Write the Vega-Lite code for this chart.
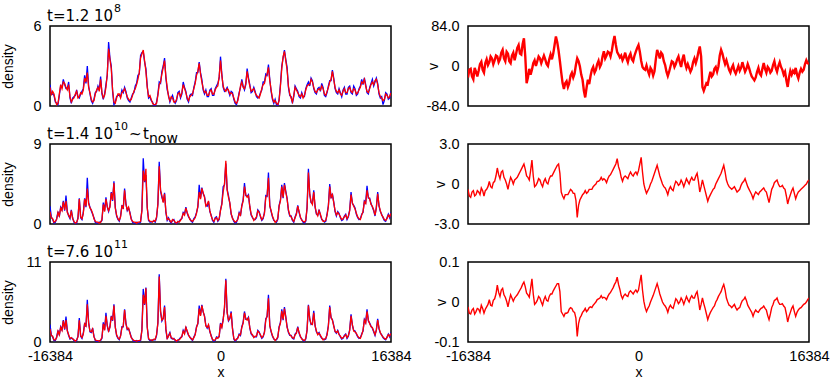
{
"$schema": "https://vega.github.io/schema/vega-lite/v6.json",
"padding": {"left": 0, "top": 2, "right": 0, "bottom": 0},
"background": "white",
"config": {
  "view": {"stroke": "#000", "strokeWidth": 1.5},
  "axis": {"grid": false, "ticks": false, "domain": false, "labelFont": "Liberation Sans", "labelFontSize": 14.5, "labelColor": "#000", "labelPadding": 9, "labelFlush": false, "labelOverlap": false, "titleFont": "Liberation Sans", "titleFontSize": 14, "titleFontWeight": "normal", "titleColor": "#000"}
},
"data": {"name": "d"},
"datasets": {"d": [
{"x":-16384,"b1":1.6,"r1":1.4,"v1":-24,"b2":2.0,"r2":1.4,"v2":-0.4,"b3":2.4,"r3":1.8,"v3":-0.012},
{"x":-16128,"b1":0.9,"r1":1.1,"v1":-6,"b2":0.5,"r2":0.6,"v2":-1.0,"b3":0.7,"r3":0.8,"v3":-0.030},
{"x":-15872,"b1":0.3,"r1":0.4,"v1":-28,"b2":0.2,"r2":0.3,"v2":-0.5,"b3":0.2,"r3":0.3,"v3":-0.016},
{"x":-15616,"b1":0.1,"r1":0.2,"v1":-12,"b2":1.4,"r2":1.3,"v2":-0.8,"b3":1.6,"r3":1.5,"v3":-0.024},
{"x":-15360,"b1":1.5,"r1":1.6,"v1":-10,"b2":1.9,"r2":1.8,"v2":-0.6,"b3":2.1,"r3":2.0,"v3":-0.018},
{"x":-15104,"b1":2.0,"r1":1.8,"v1":9,"b2":2.6,"r2":2.5,"v2":-0.3,"b3":3.0,"r3":2.9,"v3":-0.008},
{"x":-14848,"b1":1.3,"r1":1.4,"v1":-14,"b2":3.2,"r2":2.6,"v2":-0.9,"b3":3.5,"r3":3.0,"v3":-0.028},
{"x":-14592,"b1":1.8,"r1":1.6,"v1":14,"b2":0.9,"r2":1.0,"v2":-0.4,"b3":0.9,"r3":1.0,"v3":-0.012},
{"x":-14336,"b1":0.2,"r1":0.3,"v1":8,"b2":1.6,"r2":1.5,"v2":0.2,"b3":0.5,"r3":0.6,"v3":0.006},
{"x":-14080,"b1":0.7,"r1":0.6,"v1":16,"b2":0.2,"r2":0.3,"v2":-0.3,"b3":0.2,"r3":0.3,"v3":-0.010},
{"x":-13824,"b1":1.2,"r1":1.1,"v1":12,"b2":0.1,"r2":0.2,"v2":0.2,"b3":0.2,"r3":0.3,"v3":0.008},
{"x":-13568,"b1":0.6,"r1":0.7,"v1":20,"b2":2.9,"r2":2.8,"v2":1.2,"b3":3.3,"r3":3.0,"v3":0.042},
{"x":-13312,"b1":1.1,"r1":0.9,"v1":14,"b2":0.5,"r2":0.6,"v2":0.4,"b3":0.5,"r3":0.6,"v3":0.014},
{"x":-13056,"b1":2.3,"r1":2.1,"v1":34,"b2":2.9,"r2":2.8,"v2":1.0,"b3":2.6,"r3":2.5,"v3":0.034},
{"x":-12800,"b1":3.0,"r1":2.5,"v1":10,"b2":5.2,"r2":4.0,"v2":0.3,"b3":5.8,"r3":5.2,"v3":0.012},
{"x":-12544,"b1":0.9,"r1":1.0,"v1":26,"b2":1.9,"r2":1.8,"v2":-0.4,"b3":1.4,"r3":1.5,"v3":-0.012},
{"x":-12288,"b1":0.2,"r1":0.3,"v1":6,"b2":1.1,"r2":1.2,"v2":0.5,"b3":1.9,"r3":1.8,"v3":0.018},
{"x":-12032,"b1":1.0,"r1":0.9,"v1":28,"b2":0.2,"r2":0.3,"v2":0.0,"b3":0.2,"r3":0.3,"v3":0.002},
{"x":-11776,"b1":1.5,"r1":1.4,"v1":24,"b2":0.1,"r2":0.2,"v2":0.4,"b3":0.1,"r3":0.2,"v3":0.014},
{"x":-11520,"b1":2.2,"r1":2.0,"v1":44,"b2":0.2,"r2":0.2,"v2":0.7,"b3":0.2,"r3":0.3,"v3":0.024},
{"x":-11264,"b1":0.5,"r1":0.6,"v1":24,"b2":2.4,"r2":2.2,"v2":1.1,"b3":2.7,"r3":2.5,"v3":0.036},
{"x":-11008,"b1":1.6,"r1":1.4,"v1":58,"b2":3.0,"r2":2.8,"v2":1.5,"b3":4.0,"r3":3.6,"v3":0.050},
{"x":-10752,"b1":4.8,"r1":4.3,"v1":-36,"b2":1.4,"r2":1.5,"v2":0.6,"b3":1.4,"r3":1.5,"v3":0.022},
{"x":-10496,"b1":3.0,"r1":2.8,"v1":-6,"b2":3.6,"r2":3.5,"v2":0.3,"b3":3.6,"r3":3.5,"v3":0.012},
{"x":-10240,"b1":0.1,"r1":0.3,"v1":-8,"b2":4.8,"r2":4.6,"v2":1.8,"b3":5.2,"r3":5.0,"v3":0.058},
{"x":-9984,"b1":0.7,"r1":0.6,"v1":12,"b2":0.9,"r2":1.0,"v2":-0.2,"b3":0.9,"r3":1.0,"v3":-0.006},
{"x":-9728,"b1":0.8,"r1":0.9,"v1":10,"b2":0.3,"r2":0.4,"v2":0.1,"b3":0.3,"r3":0.4,"v3":0.004},
{"x":-9472,"b1":1.2,"r1":1.0,"v1":16,"b2":2.1,"r2":2.0,"v2":0.3,"b3":2.1,"r3":2.0,"v3":0.010},
{"x":-9216,"b1":1.4,"r1":1.3,"v1":14,"b2":4.0,"r2":3.8,"v2":-0.2,"b3":4.5,"r3":4.4,"v3":-0.008},
{"x":-8960,"b1":0.6,"r1":0.7,"v1":14,"b2":1.5,"r2":1.6,"v2":0.4,"b3":1.7,"r3":1.8,"v3":0.014},
{"x":-8704,"b1":0.3,"r1":0.4,"v1":0,"b2":1.3,"r2":1.2,"v2":0.0,"b3":1.3,"r3":1.2,"v3":0.002},
{"x":-8448,"b1":0.9,"r1":0.8,"v1":24,"b2":0.2,"r2":0.3,"v2":0.6,"b3":0.3,"r3":0.4,"v3":0.020},
{"x":-8192,"b1":1.5,"r1":1.3,"v1":26,"b2":0.1,"r2":0.2,"v2":0.8,"b3":0.1,"r3":0.2,"v3":0.028},
{"x":-7936,"b1":2.3,"r1":2.0,"v1":62,"b2":0.1,"r2":0.2,"v2":1.2,"b3":0.1,"r3":0.2,"v3":0.040},
{"x":-7680,"b1":3.8,"r1":3.6,"v1":32,"b2":0.2,"r2":0.3,"v2":1.5,"b3":0.2,"r3":0.3,"v3":0.046},
{"x":-7424,"b1":4.1,"r1":4.2,"v1":-14,"b2":7.4,"r2":6.0,"v2":-0.6,"b3":7.3,"r3":6.5,"v3":-0.024},
{"x":-7168,"b1":2.8,"r1":2.6,"v1":-48,"b2":5.5,"r2":6.2,"v2":-1.1,"b3":7.5,"r3":7.4,"v3":-0.036},
{"x":-6912,"b1":0.6,"r1":0.7,"v1":-32,"b2":0.4,"r2":0.5,"v2":-0.8,"b3":0.4,"r3":0.5,"v3":-0.028},
{"x":-6656,"b1":0.4,"r1":0.5,"v1":-36,"b2":0.2,"r2":0.3,"v2":-0.6,"b3":0.2,"r3":0.3,"v3":-0.018},
{"x":-6400,"b1":0.0,"r1":0.1,"v1":-14,"b2":0.3,"r2":0.4,"v2":-0.5,"b3":0.3,"r3":0.4,"v3":-0.016},
{"x":-6144,"b1":0.3,"r1":0.2,"v1":-16,"b2":0.7,"r2":0.8,"v2":-0.7,"b3":0.9,"r3":1.0,"v3":-0.026},
{"x":-5888,"b1":1.8,"r1":1.6,"v1":16,"b2":7.0,"r2":6.5,"v2":-2.5,"b3":9.3,"r3":9.0,"v3":-0.086},
{"x":-5632,"b1":2.6,"r1":2.4,"v1":-1,"b2":3.0,"r2":3.2,"v2":-1.2,"b3":2.9,"r3":3.0,"v3":-0.040},
{"x":-5376,"b1":3.6,"r1":3.4,"v1":-29,"b2":3.5,"r2":3.4,"v2":-0.8,"b3":5.0,"r3":4.8,"v3":-0.026},
{"x":-5120,"b1":1.2,"r1":1.4,"v1":-66,"b2":0.4,"r2":0.5,"v2":-0.5,"b3":0.4,"r3":0.5,"v3":-0.016},
{"x":-4864,"b1":0.3,"r1":0.4,"v1":-29,"b2":0.3,"r2":0.4,"v2":-0.6,"b3":1.3,"r3":1.2,"v3":-0.020},
{"x":-4608,"b1":0.8,"r1":0.6,"v1":-21,"b2":0.4,"r2":0.5,"v2":-0.4,"b3":0.4,"r3":0.5,"v3":-0.012},
{"x":-4352,"b1":0.2,"r1":0.3,"v1":-2,"b2":0.1,"r2":0.2,"v2":-0.2,"b3":0.2,"r3":0.3,"v3":-0.008},
{"x":-4096,"b1":1.0,"r1":0.9,"v1":-8,"b2":0.2,"r2":0.3,"v2":0.0,"b3":0.2,"r3":0.3,"v3":0.000},
{"x":-3840,"b1":0.6,"r1":0.7,"v1":11,"b2":0.5,"r2":0.4,"v2":0.2,"b3":0.6,"r3":0.5,"v3":0.008},
{"x":-3584,"b1":1.8,"r1":1.6,"v1":4,"b2":1.3,"r2":1.2,"v2":0.5,"b3":1.6,"r3":1.5,"v3":0.016},
{"x":-3328,"b1":1.1,"r1":1.0,"v1":31,"b2":1.9,"r2":1.8,"v2":0.4,"b3":2.1,"r3":2.0,"v3":0.012},
{"x":-3072,"b1":0.3,"r1":0.4,"v1":22,"b2":0.8,"r2":0.9,"v2":0.1,"b3":0.9,"r3":1.0,"v3":0.006},
{"x":-2816,"b1":0.9,"r1":0.8,"v1":28,"b2":0.3,"r2":0.4,"v2":0.6,"b3":0.4,"r3":0.5,"v3":0.020},
{"x":-2560,"b1":1.4,"r1":1.3,"v1":32,"b2":0.6,"r2":0.5,"v2":0.9,"b3":0.7,"r3":0.6,"v3":0.030},
{"x":-2304,"b1":2.5,"r1":2.3,"v1":63,"b2":1.3,"r2":1.2,"v2":1.3,"b3":2.1,"r3":2.0,"v3":0.044},
{"x":-2048,"b1":3.3,"r1":3.2,"v1":29,"b2":4.4,"r2":3.6,"v2":1.9,"b3":5.0,"r3":4.6,"v3":0.062},
{"x":-1792,"b1":2.0,"r1":1.8,"v1":18,"b2":4.1,"r2":4.0,"v2":1.0,"b3":5.1,"r3":5.0,"v3":0.032},
{"x":-1536,"b1":0.9,"r1":1.0,"v1":12,"b2":3.1,"r2":3.0,"v2":0.2,"b3":3.6,"r3":3.5,"v3":0.008},
{"x":-1280,"b1":0.7,"r1":0.8,"v1":28,"b2":2.0,"r2":2.2,"v2":0.6,"b3":1.9,"r3":2.0,"v3":0.020},
{"x":-1024,"b1":1.2,"r1":1.1,"v1":8,"b2":1.4,"r2":1.5,"v2":0.4,"b3":1.4,"r3":1.5,"v3":0.014},
{"x":-768,"b1":0.8,"r1":0.9,"v1":26,"b2":0.4,"r2":0.5,"v2":0.9,"b3":0.3,"r3":0.4,"v3":0.028},
{"x":-512,"b1":1.3,"r1":1.2,"v1":10,"b2":0.7,"r2":0.6,"v2":0.6,"b3":0.2,"r3":0.3,"v3":0.020},
{"x":-256,"b1":1.7,"r1":1.5,"v1":30,"b2":0.3,"r2":0.4,"v2":0.9,"b3":0.6,"r3":0.5,"v3":0.030},
{"x":0,"b1":3.7,"r1":3.4,"v1":44,"b2":1.6,"r2":1.5,"v2":1.0,"b3":2.6,"r3":2.5,"v3":0.030},
{"x":256,"b1":1.4,"r1":1.5,"v1":11,"b2":4.2,"r2":3.6,"v2":2.0,"b3":3.1,"r3":3.0,"v3":0.068},
{"x":512,"b1":1.2,"r1":1.1,"v1":-6,"b2":6.8,"r2":7.1,"v2":0.0,"b3":8.7,"r3":8.5,"v3":0.002},
{"x":768,"b1":1.1,"r1":1.2,"v1":1,"b2":3.2,"r2":3.0,"v2":-0.7,"b3":2.9,"r3":3.0,"v3":-0.024},
{"x":1024,"b1":1.1,"r1":1.0,"v1":-18,"b2":1.1,"r2":1.2,"v2":-0.3,"b3":4.2,"r3":4.0,"v3":-0.010},
{"x":1280,"b1":0.5,"r1":0.6,"v1":-9,"b2":0.3,"r2":0.4,"v2":0.2,"b3":0.4,"r3":0.5,"v3":0.008},
{"x":1536,"b1":0.1,"r1":0.2,"v1":-11,"b2":0.2,"r2":0.3,"v2":0.8,"b3":0.3,"r3":0.4,"v3":0.026},
{"x":1792,"b1":1.0,"r1":0.9,"v1":34,"b2":1.3,"r2":1.2,"v2":1.4,"b3":1.1,"r3":1.0,"v3":0.046},
{"x":2048,"b1":2.0,"r1":1.8,"v1":16,"b2":2.1,"r2":2.0,"v2":0.6,"b3":2.1,"r3":2.0,"v3":0.020},
{"x":2304,"b1":1.2,"r1":1.3,"v1":24,"b2":4.6,"r2":4.2,"v2":0.0,"b3":4.2,"r3":4.0,"v3":0.000},
{"x":2560,"b1":2.8,"r1":2.6,"v1":2,"b2":3.1,"r2":3.0,"v2":-0.3,"b3":3.1,"r3":3.0,"v3":-0.010},
{"x":2816,"b1":1.6,"r1":1.5,"v1":-21,"b2":1.9,"r2":2.0,"v2":-0.8,"b3":1.9,"r3":2.0,"v3":-0.026},
{"x":3072,"b1":1.1,"r1":1.2,"v1":-1,"b2":0.7,"r2":0.8,"v2":-0.2,"b3":0.9,"r3":1.0,"v3":-0.008},
{"x":3328,"b1":1.1,"r1":1.0,"v1":8,"b2":0.5,"r2":0.6,"v2":-0.5,"b3":0.7,"r3":0.8,"v3":-0.016},
{"x":3584,"b1":0.6,"r1":0.7,"v1":4,"b2":1.6,"r2":1.5,"v2":0.2,"b3":1.6,"r3":1.5,"v3":0.008},
{"x":3840,"b1":1.0,"r1":0.9,"v1":20,"b2":0.8,"r2":0.9,"v2":-0.1,"b3":0.9,"r3":1.0,"v3":-0.004},
{"x":4096,"b1":1.8,"r1":1.6,"v1":-2,"b2":0.6,"r2":0.7,"v2":0.3,"b3":0.7,"r3":0.8,"v3":0.010},
{"x":4352,"b1":2.4,"r1":2.2,"v1":24,"b2":3.2,"r2":3.0,"v2":-0.2,"b3":3.2,"r3":3.0,"v3":-0.006},
{"x":4608,"b1":3.1,"r1":2.9,"v1":-4,"b2":5.8,"r2":5.2,"v2":0.4,"b3":6.5,"r3":6.0,"v3":0.014},
{"x":4864,"b1":1.1,"r1":1.2,"v1":-4,"b2":1.4,"r2":1.5,"v2":0.0,"b3":1.4,"r3":1.5,"v3":0.000},
{"x":5120,"b1":0.2,"r1":0.3,"v1":-6,"b2":0.4,"r2":0.5,"v2":0.5,"b3":0.4,"r3":0.5,"v3":0.016},
{"x":5376,"b1":0.1,"r1":0.2,"v1":16,"b2":0.2,"r2":0.3,"v2":0.3,"b3":0.3,"r3":0.4,"v3":0.010},
{"x":5632,"b1":0.5,"r1":0.4,"v1":16,"b2":2.1,"r2":2.0,"v2":0.8,"b3":2.1,"r3":2.0,"v3":0.026},
{"x":5888,"b1":3.0,"r1":2.8,"v1":41,"b2":4.4,"r2":4.2,"v2":-0.6,"b3":4.5,"r3":4.3,"v3":-0.020},
{"x":6144,"b1":4.2,"r1":4.1,"v1":-44,"b2":4.6,"r2":4.4,"v2":0.3,"b3":4.8,"r3":4.6,"v3":0.010},
{"x":6400,"b1":2.9,"r1":2.7,"v1":-44,"b2":2.9,"r2":2.8,"v2":-0.5,"b3":2.1,"r3":2.0,"v3":-0.016},
{"x":6656,"b1":0.8,"r1":0.9,"v1":-38,"b2":0.9,"r2":1.0,"v2":-1.3,"b3":0.9,"r3":1.0,"v3":-0.044},
{"x":6912,"b1":0.2,"r1":0.3,"v1":-12,"b2":0.4,"r2":0.5,"v2":-0.8,"b3":0.5,"r3":0.6,"v3":-0.026},
{"x":7168,"b1":1.5,"r1":1.4,"v1":-18,"b2":0.8,"r2":0.7,"v2":-0.4,"b3":1.1,"r3":1.0,"v3":-0.014},
{"x":7424,"b1":1.1,"r1":1.0,"v1":-2,"b2":2.1,"r2":2.0,"v2":0.0,"b3":2.1,"r3":2.0,"v3":0.000},
{"x":7680,"b1":0.6,"r1":0.7,"v1":-1,"b2":0.7,"r2":0.8,"v2":0.4,"b3":0.7,"r3":0.8,"v3":0.014},
{"x":7936,"b1":0.7,"r1":0.6,"v1":34,"b2":0.2,"r2":0.3,"v2":0.8,"b3":0.2,"r3":0.3,"v3":0.026},
{"x":8192,"b1":1.3,"r1":1.2,"v1":14,"b2":0.3,"r2":0.4,"v2":1.4,"b3":0.4,"r3":0.5,"v3":0.044},
{"x":8448,"b1":1.8,"r1":1.6,"v1":12,"b2":6.2,"r2":5.8,"v2":0.3,"b3":5.1,"r3":5.0,"v3":0.010},
{"x":8704,"b1":2.1,"r1":2.0,"v1":-8,"b2":2.4,"r2":2.5,"v2":-0.2,"b3":2.4,"r3":2.5,"v3":-0.008},
{"x":8960,"b1":1.3,"r1":1.4,"v1":-4,"b2":3.8,"r2":3.6,"v2":-0.4,"b3":4.3,"r3":4.0,"v3":-0.014},
{"x":9216,"b1":0.9,"r1":1.0,"v1":-10,"b2":1.1,"r2":1.2,"v2":-0.2,"b3":1.4,"r3":1.5,"v3":-0.006},
{"x":9472,"b1":1.4,"r1":1.3,"v1":-8,"b2":1.6,"r2":1.5,"v2":-0.6,"b3":1.3,"r3":1.2,"v3":-0.020},
{"x":9728,"b1":1.7,"r1":1.5,"v1":-10,"b2":0.5,"r2":0.6,"v2":-0.4,"b3":0.5,"r3":0.6,"v3":-0.014},
{"x":9984,"b1":0.8,"r1":0.9,"v1":8,"b2":0.2,"r2":0.3,"v2":0.1,"b3":0.3,"r3":0.4,"v3":0.004},
{"x":10240,"b1":1.0,"r1":1.1,"v1":-12,"b2":1.1,"r2":1.0,"v2":0.4,"b3":1.1,"r3":1.0,"v3":0.012},
{"x":10496,"b1":1.9,"r1":1.8,"v1":4,"b2":4.5,"r2":4.2,"v2":-0.2,"b3":5.0,"r3":4.8,"v3":-0.008},
{"x":10752,"b1":2.7,"r1":2.6,"v1":-14,"b2":3.4,"r2":3.3,"v2":-0.6,"b3":3.1,"r3":3.0,"v3":-0.020},
{"x":11008,"b1":1.3,"r1":1.4,"v1":-26,"b2":1.4,"r2":1.5,"v2":-1.1,"b3":1.4,"r3":1.5,"v3":-0.036},
{"x":11264,"b1":0.9,"r1":1.0,"v1":-24,"b2":1.4,"r2":1.3,"v2":-0.6,"b3":1.6,"r3":1.5,"v3":-0.020},
{"x":11520,"b1":1.0,"r1":0.9,"v1":-4,"b2":0.7,"r2":0.8,"v2":-0.8,"b3":0.7,"r3":0.8,"v3":-0.026},
{"x":11776,"b1":1.2,"r1":1.1,"v1":-20,"b2":0.5,"r2":0.6,"v2":-0.5,"b3":0.5,"r3":0.6,"v3":-0.016},
{"x":12032,"b1":0.9,"r1":1.0,"v1":6,"b2":1.1,"r2":1.0,"v2":-0.3,"b3":1.1,"r3":1.0,"v3":-0.010},
{"x":12288,"b1":1.4,"r1":1.3,"v1":-14,"b2":0.8,"r2":0.9,"v2":-0.6,"b3":0.8,"r3":0.9,"v3":-0.020},
{"x":12544,"b1":1.0,"r1":1.1,"v1":-6,"b2":3.6,"r2":3.3,"v2":-1.4,"b3":3.8,"r3":3.6,"v3":-0.044},
{"x":12800,"b1":1.5,"r1":1.3,"v1":-10,"b2":2.1,"r2":2.0,"v2":-0.4,"b3":1.6,"r3":1.5,"v3":-0.014},
{"x":13056,"b1":0.8,"r1":0.9,"v1":10,"b2":1.1,"r2":1.2,"v2":0.1,"b3":1.1,"r3":1.2,"v3":0.004},
{"x":13312,"b1":1.3,"r1":1.2,"v1":-12,"b2":0.5,"r2":0.6,"v2":0.3,"b3":0.5,"r3":0.6,"v3":0.010},
{"x":13568,"b1":2.0,"r1":1.8,"v1":8,"b2":1.1,"r2":1.0,"v2":-0.2,"b3":1.1,"r3":1.0,"v3":-0.006},
{"x":13824,"b1":2.1,"r1":2.0,"v1":-8,"b2":2.6,"r2":2.5,"v2":-0.1,"b3":3.1,"r3":3.0,"v3":-0.004},
{"x":14080,"b1":1.0,"r1":1.1,"v1":-12,"b2":4.3,"r2":3.8,"v2":-0.4,"b3":4.5,"r3":4.2,"v3":-0.014},
{"x":14336,"b1":1.4,"r1":1.3,"v1":-44,"b2":2.9,"r2":2.8,"v2":-1.5,"b3":2.6,"r3":2.5,"v3":-0.050},
{"x":14592,"b1":2.0,"r1":1.8,"v1":-10,"b2":1.9,"r2":2.0,"v2":-0.8,"b3":1.9,"r3":2.0,"v3":-0.026},
{"x":14848,"b1":1.8,"r1":1.9,"v1":-10,"b2":0.9,"r2":1.0,"v2":-0.3,"b3":0.9,"r3":1.0,"v3":-0.010},
{"x":15104,"b1":1.7,"r1":1.6,"v1":-4,"b2":3.6,"r2":3.4,"v2":-1.1,"b3":3.2,"r3":3.0,"v3":-0.036},
{"x":15360,"b1":0.6,"r1":0.7,"v1":-26,"b2":1.4,"r2":1.5,"v2":-0.6,"b3":1.2,"r3":1.3,"v3":-0.020},
{"x":15616,"b1":0.1,"r1":0.4,"v1":-6,"b2":0.7,"r2":0.8,"v2":-0.4,"b3":0.6,"r3":0.7,"v3":-0.014},
{"x":15872,"b1":1.0,"r1":0.9,"v1":-8,"b2":0.3,"r2":0.4,"v2":-0.2,"b3":0.3,"r3":0.4,"v3":-0.006},
{"x":16128,"b1":0.5,"r1":0.6,"v1":12,"b2":1.1,"r2":1.0,"v2":0.0,"b3":1.1,"r3":1.0,"v3":0.000},
{"x":16384,"b1":1.1,"r1":1.0,"v1":4,"b2":1.3,"r2":1.2,"v2":0.3,"b3":1.3,"r3":1.2,"v3":0.010},
{"x":-16256,"b1":0.9,"r1":0.8,"v1":-8,"b2":0.8,"r2":0.7,"v2":-0.9,"b3":1.0,"r3":0.9,"v3":-0.028},
{"x":-16000,"b1":0.8,"r1":0.9,"v1":-22,"b2":0.1,"r2":0.2,"v2":-0.6,"b3":0.2,"r3":0.3,"v3":-0.020},
{"x":-15744,"b1":0.2,"r1":0.1,"v1":-4,"b2":0.6,"r2":0.5,"v2":-0.9,"b3":0.7,"r3":0.6,"v3":-0.030},
{"x":-15488,"b1":0.8,"r1":0.9,"v1":-22,"b2":0.8,"r2":0.9,"v2":-0.5,"b3":0.9,"r3":1.0,"v3":-0.016},
{"x":-15232,"b1":1.4,"r1":1.3,"v1":4,"b2":1.6,"r2":1.5,"v2":-0.8,"b3":1.7,"r3":1.6,"v3":-0.026},
{"x":-14976,"b1":1.6,"r1":1.7,"v1":-8,"b2":1.5,"r2":1.6,"v2":-0.5,"b3":1.7,"r3":1.8,"v3":-0.016},
{"x":-14720,"b1":1.3,"r1":1.2,"v1":6,"b2":1.4,"r2":1.3,"v2":-0.5,"b3":1.6,"r3":1.5,"v3":-0.018},
{"x":-14464,"b1":0.6,"r1":0.7,"v1":2,"b2":0.6,"r2":0.7,"v2":-0.2,"b3":0.4,"r3":0.5,"v3":-0.006},
{"x":-14208,"b1":0.6,"r1":0.5,"v1":20,"b2":0.7,"r2":0.6,"v2":-0.2,"b3":0.5,"r3":0.4,"v3":-0.008},
{"x":-13952,"b1":0.8,"r1":0.9,"v1":4,"b2":0.0,"r2":0.1,"v2":0.1,"b3":0.0,"r3":0.1,"v3":0.004},
{"x":-13696,"b1":0.7,"r1":0.6,"v1":22,"b2":0.7,"r2":0.6,"v2":0.6,"b3":0.8,"r3":0.7,"v3":0.020},
{"x":-13440,"b1":0.9,"r1":1.0,"v1":8,"b2":0.7,"r2":0.8,"v2":0.7,"b3":0.8,"r3":0.9,"v3":0.024},
{"x":-13184,"b1":1.3,"r1":1.2,"v1":28,"b2":1.3,"r2":1.2,"v2":0.9,"b3":1.2,"r3":1.1,"v3":0.030},
{"x":-12928,"b1":1.7,"r1":1.8,"v1":16,"b2":1.9,"r2":2.0,"v2":0.5,"b3":2.1,"r3":2.2,"v3":0.018},
{"x":-12672,"b1":1.5,"r1":1.4,"v1":30,"b2":2.4,"r2":2.3,"v2":0.0,"b3":2.7,"r3":2.6,"v3":0.002},
{"x":-12416,"b1":0.4,"r1":0.5,"v1":10,"b2":1.5,"r2":1.6,"v2":0.1,"b3":1.3,"r3":1.4,"v3":0.004},
{"x":-12160,"b1":0.5,"r1":0.4,"v1":22,"b2":0.7,"r2":0.6,"v2":0.3,"b3":0.8,"r3":0.7,"v3":0.010},
{"x":-11904,"b1":1.1,"r1":1.2,"v1":12,"b2":0.1,"r2":0.2,"v2":0.3,"b3":0.1,"r3":0.2,"v3":0.010},
{"x":-11648,"b1":1.2,"r1":1.1,"v1":38,"b2":0.2,"r2":0.1,"v2":0.5,"b3":0.2,"r3":0.1,"v3":0.018},
{"x":-11392,"b1":0.9,"r1":1.0,"v1":26,"b2":0.4,"r2":0.5,"v2":0.9,"b3":0.5,"r3":0.6,"v3":0.030},
{"x":-11136,"b1":0.9,"r1":0.8,"v1":46,"b2":1.5,"r2":1.4,"v2":1.3,"b3":1.7,"r3":1.6,"v3":0.044},
{"x":-10880,"b1":2.3,"r1":2.4,"v1":20,"b2":1.9,"r2":2.0,"v2":1.1,"b3":2.2,"r3":2.3,"v3":0.038},
{"x":-10624,"b1":3.6,"r1":3.5,"v1":-24,"b2":2.0,"r2":1.9,"v2":0.5,"b3":2.1,"r3":2.0,"v3":0.018},
{"x":-10368,"b1":1.1,"r1":1.2,"v1":-18,"b2":2.6,"r2":2.7,"v2":1.0,"b3":2.9,"r3":3.0,"v3":0.034},
{"x":-10112,"b1":0.3,"r1":0.2,"v1":6,"b2":1.9,"r2":1.8,"v2":0.6,"b3":2.1,"r3":2.0,"v3":0.020},
{"x":-9856,"b1":0.8,"r1":0.9,"v1":0,"b2":0.5,"r2":0.6,"v2":-0.1,"b3":0.5,"r3":0.6,"v3":-0.002},
{"x":-9600,"b1":0.7,"r1":0.6,"v1":20,"b2":0.9,"r2":0.8,"v2":0.4,"b3":0.9,"r3":0.8,"v3":0.014},
{"x":-9344,"b1":1.0,"r1":1.1,"v1":6,"b2":1.7,"r2":1.8,"v2":0.0,"b3":2.1,"r3":2.2,"v3":0.000},
{"x":-9088,"b1":1.1,"r1":1.0,"v1":22,"b2":2.3,"r2":2.2,"v2":0.2,"b3":2.6,"r3":2.5,"v3":0.006},
{"x":-8832,"b1":0.4,"r1":0.5,"v1":4,"b2":1.8,"r2":1.9,"v2":0.1,"b3":1.8,"r3":1.9,"v3":0.004},
{"x":-8576,"b1":0.6,"r1":0.5,"v1":14,"b2":0.6,"r2":0.5,"v2":0.4,"b3":0.7,"r3":0.6,"v3":0.014},
{"x":-8320,"b1":1.0,"r1":1.1,"v1":14,"b2":0.1,"r2":0.2,"v2":0.6,"b3":0.1,"r3":0.2,"v3":0.020},
{"x":-8064,"b1":1.7,"r1":1.6,"v1":44,"b2":0.2,"r2":0.1,"v2":1.0,"b3":0.2,"r3":0.1,"v3":0.034},
{"x":-7808,"b1":2.4,"r1":2.5,"v1":50,"b2":0.1,"r2":0.2,"v2":1.4,"b3":0.1,"r3":0.2,"v3":0.046},
{"x":-7552,"b1":4.0,"r1":3.9,"v1":10,"b2":1.6,"r2":1.5,"v2":0.8,"b3":1.7,"r3":1.6,"v3":0.026},
{"x":-7296,"b1":3.3,"r1":3.4,"v1":-36,"b2":4.7,"r2":4.8,"v2":-0.9,"b3":5.1,"r3":5.2,"v3":-0.030},
{"x":-7040,"b1":1.5,"r1":1.4,"v1":-36,"b2":1.9,"r2":1.8,"v2":-0.8,"b3":2.1,"r3":2.0,"v3":-0.028},
{"x":-6784,"b1":0.7,"r1":0.8,"v1":-44,"b2":0.2,"r2":0.3,"v2":-0.8,"b3":0.2,"r3":0.3,"v3":-0.026},
{"x":-6528,"b1":0.3,"r1":0.2,"v1":-20,"b2":0.3,"r2":0.2,"v2":-0.4,"b3":0.3,"r3":0.2,"v3":-0.014},
{"x":-6272,"b1":0.0,"r1":0.1,"v1":-24,"b2":0.2,"r2":0.3,"v2":-0.7,"b3":0.3,"r3":0.4,"v3":-0.024},
{"x":-6016,"b1":0.9,"r1":0.8,"v1":2,"b2":2.3,"r2":2.2,"v2":-1.2,"b3":2.7,"r3":2.6,"v3":-0.040},
{"x":-5760,"b1":1.7,"r1":1.8,"v1":10,"b2":3.7,"r2":3.8,"v2":-1.6,"b3":4.1,"r3":4.2,"v3":-0.054},
{"x":-5504,"b1":3.0,"r1":2.9,"v1":-18,"b2":2.5,"r2":2.4,"v2":-1.0,"b3":3.3,"r3":3.2,"v3":-0.034},
{"x":-5248,"b1":2.1,"r1":2.2,"v1":-52,"b2":1.3,"r2":1.4,"v2":-0.7,"b3":1.7,"r3":1.8,"v3":-0.022},
{"x":-4992,"b1":0.8,"r1":0.7,"v1":-46,"b2":0.7,"r2":0.6,"v2":-0.7,"b3":0.9,"r3":0.8,"v3":-0.024},
{"x":-4736,"b1":0.6,"r1":0.7,"v1":-38,"b2":0.1,"r2":0.2,"v2":-0.4,"b3":0.5,"r3":0.6,"v3":-0.014},
{"x":-4480,"b1":0.4,"r1":0.3,"v1":-8,"b2":0.5,"r2":0.4,"v2":-0.4,"b3":0.5,"r3":0.4,"v3":-0.014},
{"x":-4224,"b1":0.4,"r1":0.5,"v1":-14,"b2":0.0,"r2":0.1,"v2":-0.1,"b3":0.0,"r3":0.1,"v3":-0.004},
{"x":-3968,"b1":1.1,"r1":1.0,"v1":4,"b2":0.3,"r2":0.2,"v2":0.2,"b3":0.4,"r3":0.3,"v3":0.006},
{"x":-3712,"b1":0.9,"r1":1.0,"v1":-2,"b2":0.6,"r2":0.7,"v2":0.3,"b3":0.7,"r3":0.8,"v3":0.010},
{"x":-3456,"b1":1.4,"r1":1.3,"v1":20,"b2":1.1,"r2":1.0,"v2":0.3,"b3":1.2,"r3":1.1,"v3":0.010},
{"x":-3200,"b1":0.5,"r1":0.6,"v1":16,"b2":1.2,"r2":1.3,"v2":0.3,"b3":1.4,"r3":1.5,"v3":0.010},
{"x":-2944,"b1":0.8,"r1":0.7,"v1":30,"b2":0.6,"r2":0.5,"v2":0.4,"b3":0.7,"r3":0.6,"v3":0.014},
{"x":-2688,"b1":0.8,"r1":0.9,"v1":20,"b2":0.2,"r2":0.3,"v2":0.7,"b3":0.2,"r3":0.3,"v3":0.024},
{"x":-2432,"b1":1.8,"r1":1.7,"v1":50,"b2":0.8,"r2":0.7,"v2":1.1,"b3":1.1,"r3":1.0,"v3":0.036},
{"x":-2176,"b1":2.5,"r1":2.6,"v1":44,"b2":1.9,"r2":2.0,"v2":1.5,"b3":2.5,"r3":2.6,"v3":0.050},
{"x":-1920,"b1":2.5,"r1":2.4,"v1":24,"b2":2.9,"r2":2.8,"v2":1.3,"b3":3.7,"r3":3.6,"v3":0.044},
{"x":-1664,"b1":1.2,"r1":1.3,"v1":22,"b2":3.4,"r2":3.5,"v2":0.5,"b3":4.1,"r3":4.2,"v3":0.016},
{"x":-1408,"b1":1.2,"r1":1.1,"v1":18,"b2":2.1,"r2":2.0,"v2":0.5,"b3":2.3,"r3":2.2,"v3":0.016},
{"x":-1152,"b1":0.7,"r1":0.8,"v1":16,"b2":2.5,"r2":2.6,"v2":0.5,"b3":2.3,"r3":2.4,"v3":0.016},
{"x":-896,"b1":1.3,"r1":1.2,"v1":20,"b2":1.0,"r2":0.9,"v2":0.7,"b3":0.9,"r3":0.8,"v3":0.024},
{"x":-640,"b1":0.8,"r1":0.9,"v1":14,"b2":0.2,"r2":0.3,"v2":0.7,"b3":0.1,"r3":0.2,"v3":0.024},
{"x":-384,"b1":1.5,"r1":1.4,"v1":22,"b2":0.8,"r2":0.7,"v2":0.8,"b3":0.7,"r3":0.6,"v3":0.026},
{"x":-128,"b1":2.1,"r1":2.2,"v1":38,"b2":0.5,"r2":0.6,"v2":0.7,"b3":0.7,"r3":0.8,"v3":0.024},
{"x":128,"b1":2.4,"r1":2.3,"v1":30,"b2":2.3,"r2":2.2,"v2":1.5,"b3":2.1,"r3":2.0,"v3":0.050},
{"x":384,"b1":1.1,"r1":1.2,"v1":-2,"b2":4.4,"r2":4.5,"v2":0.9,"b3":4.7,"r3":4.8,"v3":0.030},
{"x":640,"b1":1.4,"r1":1.3,"v1":-8,"b2":3.9,"r2":3.8,"v2":-0.4,"b3":4.1,"r3":4.0,"v3":-0.014},
{"x":896,"b1":0.8,"r1":0.9,"v1":-10,"b2":2.3,"r2":2.4,"v2":-0.5,"b3":3.2,"r3":3.3,"v3":-0.016},
{"x":1152,"b1":1.0,"r1":0.9,"v1":-4,"b2":0.7,"r2":0.6,"v2":0.0,"b3":1.9,"r3":1.8,"v3":0.000},
{"x":1408,"b1":0.2,"r1":0.3,"v1":-20,"b2":0.1,"r2":0.2,"v2":0.5,"b3":0.1,"r3":0.2,"v3":0.016},
{"x":1664,"b1":0.5,"r1":0.4,"v1":14,"b2":0.6,"r2":0.5,"v2":1.1,"b3":0.6,"r3":0.5,"v3":0.036},
{"x":1920,"b1":1.4,"r1":1.5,"v1":26,"b2":0.9,"r2":1.0,"v2":1.0,"b3":0.9,"r3":1.0,"v3":0.034},
{"x":2176,"b1":1.5,"r1":1.4,"v1":28,"b2":2.7,"r2":2.6,"v2":0.3,"b3":2.7,"r3":2.6,"v3":0.010},
{"x":2432,"b1":1.6,"r1":1.7,"v1":10,"b2":3.2,"r2":3.3,"v2":-0.2,"b3":3.1,"r3":3.2,"v3":-0.006},
{"x":2688,"b1":2.1,"r1":2.0,"v1":-12,"b2":3.3,"r2":3.2,"v2":-0.5,"b3":3.4,"r3":3.3,"v3":-0.016},
{"x":2944,"b1":1.0,"r1":1.1,"v1":-12,"b2":1.0,"r2":1.1,"v2":-0.4,"b3":1.1,"r3":1.2,"v3":-0.014},
{"x":3200,"b1":1.4,"r1":1.3,"v1":10,"b2":0.5,"r2":0.4,"v2":-0.4,"b3":0.7,"r3":0.6,"v3":-0.014},
{"x":3456,"b1":0.7,"r1":0.8,"v1":-2,"b2":0.7,"r2":0.8,"v2":-0.1,"b3":0.7,"r3":0.8,"v3":-0.004},
{"x":3712,"b1":0.7,"r1":0.6,"v1":14,"b2":1.4,"r2":1.3,"v2":0.1,"b3":1.4,"r3":1.3,"v3":0.004},
{"x":3968,"b1":1.2,"r1":1.3,"v1":8,"b2":0.4,"r2":0.5,"v2":0.0,"b3":0.5,"r3":0.6,"v3":0.000},
{"x":4224,"b1":1.8,"r1":1.7,"v1":14,"b2":1.3,"r2":1.2,"v2":0.1,"b3":1.4,"r3":1.3,"v3":0.004},
{"x":4480,"b1":2.3,"r1":2.4,"v1":6,"b2":3.1,"r2":3.2,"v2":0.1,"b3":3.5,"r3":3.6,"v3":0.004},
{"x":4736,"b1":2.0,"r1":1.9,"v1":4,"b2":2.1,"r2":2.0,"v2":0.2,"b3":2.3,"r3":2.2,"v3":0.006},
{"x":4992,"b1":0.5,"r1":0.6,"v1":-12,"b2":0.8,"r2":0.9,"v2":0.3,"b3":0.8,"r3":0.9,"v3":0.010},
{"x":5248,"b1":0.5,"r1":0.4,"v1":8,"b2":0.3,"r2":0.2,"v2":0.3,"b3":0.3,"r3":0.2,"v3":0.010},
{"x":5504,"b1":0.0,"r1":0.1,"v1":6,"b2":0.5,"r2":0.6,"v2":0.6,"b3":0.6,"r3":0.7,"v3":0.020},
{"x":5760,"b1":1.6,"r1":1.5,"v1":30,"b2":2.7,"r2":2.6,"v2":0.2,"b3":2.7,"r3":2.6,"v3":0.006},
{"x":6016,"b1":3.6,"r1":3.7,"v1":20,"b2":2.9,"r2":3.0,"v2":-0.2,"b3":3.0,"r3":3.1,"v3":-0.006},
{"x":6272,"b1":3.5,"r1":3.4,"v1":-52,"b2":3.7,"r2":3.6,"v2":-0.1,"b3":3.5,"r3":3.4,"v3":-0.004},
{"x":6528,"b1":1.4,"r1":1.5,"v1":-36,"b2":1.5,"r2":1.6,"v2":-0.9,"b3":1.3,"r3":1.4,"v3":-0.030},
{"x":6784,"b1":0.7,"r1":0.6,"v1":-24,"b2":0.9,"r2":0.8,"v2":-1.0,"b3":0.9,"r3":0.8,"v3":-0.034},
{"x":7040,"b1":0.7,"r1":0.8,"v1":-22,"b2":0.2,"r2":0.3,"v2":-0.6,"b3":0.4,"r3":0.5,"v3":-0.020},
{"x":7296,"b1":1.3,"r1":1.2,"v1":-6,"b2":1.2,"r2":1.1,"v2":-0.3,"b3":1.3,"r3":1.2,"v3":-0.010},
{"x":7552,"b1":0.7,"r1":0.8,"v1":-12,"b2":1.3,"r2":1.4,"v2":0.2,"b3":1.2,"r3":1.3,"v3":0.006},
{"x":7808,"b1":1.0,"r1":0.9,"v1":22,"b2":0.5,"r2":0.4,"v2":0.6,"b3":0.5,"r3":0.4,"v3":0.020},
{"x":8064,"b1":0.7,"r1":0.8,"v1":26,"b2":0.1,"r2":0.2,"v2":1.1,"b3":0.1,"r3":0.2,"v3":0.036},
{"x":8320,"b1":1.6,"r1":1.5,"v1":4,"b2":1.9,"r2":1.8,"v2":0.9,"b3":1.7,"r3":1.6,"v3":0.030},
{"x":8576,"b1":1.5,"r1":1.6,"v1":2,"b2":3.3,"r2":3.4,"v2":0.0,"b3":3.1,"r3":3.2,"v3":0.000},
{"x":8832,"b1":1.9,"r1":1.8,"v1":-14,"b2":2.3,"r2":2.2,"v2":-0.3,"b3":2.5,"r3":2.4,"v3":-0.010},
{"x":9088,"b1":1.0,"r1":1.1,"v1":2,"b2":1.9,"r2":2.0,"v2":-0.3,"b3":2.2,"r3":2.3,"v3":-0.010},
{"x":9344,"b1":1.3,"r1":1.2,"v1":-16,"b2":1.0,"r2":0.9,"v2":-0.4,"b3":1.1,"r3":1.0,"v3":-0.014},
{"x":9600,"b1":1.1,"r1":1.2,"v1":0,"b2":1.0,"r2":1.1,"v2":-0.5,"b3":0.8,"r3":0.9,"v3":-0.016},
{"x":9856,"b1":1.4,"r1":1.3,"v1":-4,"b2":0.4,"r2":0.3,"v2":-0.1,"b3":0.4,"r3":0.3,"v3":-0.004},
{"x":10112,"b1":0.7,"r1":0.8,"v1":-2,"b2":0.3,"r2":0.4,"v2":0.2,"b3":0.4,"r3":0.5,"v3":0.006},
{"x":10368,"b1":1.5,"r1":1.4,"v1":-6,"b2":2.1,"r2":2.0,"v2":0.1,"b3":2.3,"r3":2.2,"v3":0.004},
{"x":10624,"b1":1.9,"r1":2.0,"v1":-4,"b2":2.9,"r2":3.0,"v2":-0.4,"b3":3.3,"r3":3.4,"v3":-0.014},
{"x":10880,"b1":2.1,"r1":2.0,"v1":-22,"b2":2.5,"r2":2.4,"v2":-0.8,"b3":2.3,"r3":2.2,"v3":-0.026},
{"x":11136,"b1":1.0,"r1":1.1,"v1":-30,"b2":0.9,"r2":1.0,"v2":-0.8,"b3":1.2,"r3":1.3,"v3":-0.026},
{"x":11392,"b1":1.3,"r1":1.2,"v1":-12,"b2":1.2,"r2":1.1,"v2":-0.7,"b3":1.1,"r3":1.0,"v3":-0.024},
{"x":11648,"b1":0.7,"r1":0.8,"v1":-16,"b2":0.4,"r2":0.5,"v2":-0.6,"b3":0.4,"r3":0.5,"v3":-0.020},
{"x":11904,"b1":1.4,"r1":1.3,"v1":-6,"b2":0.9,"r2":0.8,"v2":-0.4,"b3":0.9,"r3":0.8,"v3":-0.014},
{"x":12160,"b1":0.9,"r1":1.0,"v1":-6,"b2":0.5,"r2":0.6,"v2":-0.5,"b3":0.5,"r3":0.6,"v3":-0.016},
{"x":12416,"b1":1.5,"r1":1.4,"v1":-2,"b2":1.6,"r2":1.5,"v2":-1.0,"b3":1.7,"r3":1.6,"v3":-0.034},
{"x":12672,"b1":0.9,"r1":1.0,"v1":-14,"b2":2.3,"r2":2.4,"v2":-0.9,"b3":2.3,"r3":2.4,"v3":-0.030},
{"x":12928,"b1":1.3,"r1":1.2,"v1":2,"b2":1.8,"r2":1.7,"v2":-0.2,"b3":1.5,"r3":1.4,"v3":-0.006},
{"x":13184,"b1":0.9,"r1":1.0,"v1":-4,"b2":0.7,"r2":0.8,"v2":0.2,"b3":0.7,"r3":0.8,"v3":0.006},
{"x":13440,"b1":1.5,"r1":1.4,"v1":0,"b2":0.6,"r2":0.5,"v2":0.0,"b3":0.6,"r3":0.5,"v3":0.000},
{"x":13696,"b1":1.6,"r1":1.7,"v1":-2,"b2":1.3,"r2":1.4,"v2":-0.2,"b3":1.5,"r3":1.6,"v3":-0.006},
{"x":13952,"b1":1.6,"r1":1.5,"v1":-18,"b2":2.4,"r2":2.3,"v2":-0.3,"b3":2.7,"r3":2.6,"v3":-0.010},
{"x":14208,"b1":0.9,"r1":1.0,"v1":-30,"b2":2.9,"r2":3.0,"v2":-0.9,"b3":2.9,"r3":3.0,"v3":-0.030},
{"x":14464,"b1":1.7,"r1":1.6,"v1":-24,"b2":2.3,"r2":2.2,"v2":-1.1,"b3":2.2,"r3":2.1,"v3":-0.036},
{"x":14720,"b1":1.5,"r1":1.6,"v1":-18,"b2":1.5,"r2":1.6,"v2":-0.5,"b3":1.4,"r3":1.5,"v3":-0.016},
{"x":14976,"b1":2.1,"r1":2.0,"v1":-14,"b2":1.9,"r2":1.8,"v2":-0.7,"b3":1.7,"r3":1.6,"v3":-0.024},
{"x":15232,"b1":0.9,"r1":1.0,"v1":-18,"b2":2.0,"r2":2.1,"v2":-0.8,"b3":1.8,"r3":1.9,"v3":-0.026},
{"x":15488,"b1":0.7,"r1":0.6,"v1":-14,"b2":1.1,"r2":1.0,"v2":-0.5,"b3":1.0,"r3":0.9,"v3":-0.016},
{"x":15744,"b1":0.4,"r1":0.5,"v1":-12,"b2":0.4,"r2":0.5,"v2":-0.3,"b3":0.4,"r3":0.5,"v3":-0.010},
{"x":16000,"b1":0.9,"r1":0.8,"v1":4,"b2":0.7,"r2":0.6,"v2":-0.1,"b3":0.7,"r3":0.6,"v3":-0.004},
{"x":16256,"b1":0.6,"r1":0.7,"v1":6,"b2":0.7,"r2":0.8,"v2":0.2,"b3":0.7,"r3":0.8,"v3":0.006}
]},
"columns": 2,
"spacing": {"row": 38, "column": 77},
"bounds": "flush",
"concat": [
{
 "width": 341, "height": 80,
 "layer": [
  {"mark": {"type": "line", "color": "#0000ff", "strokeWidth": 1.3, "clip": true},
   "encoding": {"x": {"field": "x", "type": "quantitative", "scale": {"domain": [-16384, 16384], "nice": false, "zero": false}, "axis": null},
                "y": {"field": "b1", "type": "quantitative", "title": "density", "scale": {"domain": [0, 6], "nice": false, "zero": false}, "axis": {"values": [0, 6], "titleX": -35}}}},
  {"mark": {"type": "line", "color": "#ff0000", "strokeWidth": 1.3, "clip": true},
   "encoding": {"x": {"field": "x", "type": "quantitative"}, "y": {"field": "r1", "type": "quantitative", "title": "density"}}},
  {"data": {"values": [{}]}, "mark": {"type": "text", "text": "t=1.2 10", "align": "left", "baseline": "alphabetic", "font": "DejaVu Sans", "fontSize": 15, "dx": -3, "dy": -5, "color": "#000"},
   "encoding": {"x": {"datum": -16384, "type": "quantitative"}, "y": {"datum": 6, "type": "quantitative", "title": "density"}}},
  {"data": {"values": [{}]}, "mark": {"type": "text", "text": "8", "align": "left", "baseline": "alphabetic", "font": "DejaVu Sans", "fontSize": 11, "dx": 64, "dy": -14, "color": "#000"},
   "encoding": {"x": {"datum": -16384, "type": "quantitative"}, "y": {"datum": 6, "type": "quantitative", "title": "density"}}}
 ]
},
{
 "width": 341, "height": 80,
 "layer": [
  {"mark": {"type": "line", "color": "#ff0000", "strokeWidth": 2.4, "clip": true},
   "encoding": {"x": {"field": "x", "type": "quantitative", "scale": {"domain": [-16384, 16384], "nice": false, "zero": false}, "axis": null},
                "y": {"field": "v1", "type": "quantitative", "title": "v", "scale": {"domain": [-84, 84], "nice": false, "zero": false}, "axis": {"values": [-84, 0, 84], "labelExpr": "datum.value == 0 ? '0' : (datum.value < 0 ? '-' + format(-datum.value, '.1f') : format(datum.value, '.1f'))", "titleX": -28}}}}
 ]
},
{
 "width": 341, "height": 80,
 "layer": [
  {"mark": {"type": "line", "color": "#0000ff", "strokeWidth": 1.3, "clip": true},
   "encoding": {"x": {"field": "x", "type": "quantitative", "scale": {"domain": [-16384, 16384], "nice": false, "zero": false}, "axis": null},
                "y": {"field": "b2", "type": "quantitative", "title": "density", "scale": {"domain": [0, 9], "nice": false, "zero": false}, "axis": {"values": [0, 9], "titleX": -35}}}},
  {"mark": {"type": "line", "color": "#ff0000", "strokeWidth": 1.3, "clip": true},
   "encoding": {"x": {"field": "x", "type": "quantitative"}, "y": {"field": "r2", "type": "quantitative", "title": "density"}}},
  {"data": {"values": [{}]}, "mark": {"type": "text", "text": "t=1.4 10", "align": "left", "baseline": "alphabetic", "font": "DejaVu Sans", "fontSize": 15, "dx": -3, "dy": -5, "color": "#000"},
   "encoding": {"x": {"datum": -16384, "type": "quantitative"}, "y": {"datum": 9, "type": "quantitative", "title": "density"}}},
  {"data": {"values": [{}]}, "mark": {"type": "text", "text": "10", "align": "left", "baseline": "alphabetic", "font": "DejaVu Sans", "fontSize": 11, "dx": 64, "dy": -14, "color": "#000"},
   "encoding": {"x": {"datum": -16384, "type": "quantitative"}, "y": {"datum": 9, "type": "quantitative", "title": "density"}}},
  {"data": {"values": [{}]}, "mark": {"type": "text", "text": "~", "align": "left", "baseline": "alphabetic", "font": "DejaVu Sans", "fontSize": 15, "dx": 79, "dy": -5, "color": "#000"},
   "encoding": {"x": {"datum": -16384, "type": "quantitative"}, "y": {"datum": 9, "type": "quantitative", "title": "density"}}},
  {"data": {"values": [{}]}, "mark": {"type": "text", "text": "t", "align": "left", "baseline": "alphabetic", "font": "DejaVu Sans", "fontSize": 15, "dx": 93, "dy": -5, "color": "#000"},
   "encoding": {"x": {"datum": -16384, "type": "quantitative"}, "y": {"datum": 9, "type": "quantitative", "title": "density"}}},
  {"data": {"values": [{}]}, "mark": {"type": "text", "text": "now", "align": "left", "baseline": "alphabetic", "font": "DejaVu Sans", "fontSize": 14, "dx": 99, "dy": -1, "color": "#000"},
   "encoding": {"x": {"datum": -16384, "type": "quantitative"}, "y": {"datum": 9, "type": "quantitative", "title": "density"}}}
 ]
},
{
 "width": 341, "height": 80,
 "layer": [
  {"mark": {"type": "line", "color": "#ff0000", "strokeWidth": 1.4, "clip": true},
   "encoding": {"x": {"field": "x", "type": "quantitative", "scale": {"domain": [-16384, 16384], "nice": false, "zero": false}, "axis": null},
                "y": {"field": "v2", "type": "quantitative", "title": "v", "scale": {"domain": [-3, 3], "nice": false, "zero": false}, "axis": {"values": [-3, 0, 3], "labelExpr": "datum.value == 0 ? '0' : (datum.value < 0 ? '-' + format(-datum.value, '.1f') : format(datum.value, '.1f'))", "titleX": -21}}}}
 ]
},
{
 "width": 341, "height": 80,
 "layer": [
  {"mark": {"type": "line", "color": "#0000ff", "strokeWidth": 1.3, "clip": true},
   "encoding": {"x": {"field": "x", "type": "quantitative", "title": "x", "scale": {"domain": [-16384, 16384], "nice": false, "zero": false}, "axis": {"values": [-16384, 0, 16384], "labelExpr": "datum.value < 0 ? '-' + format(-datum.value, 'd') : format(datum.value, 'd')", "labelPadding": 7, "titlePadding": 3}},
                "y": {"field": "b3", "type": "quantitative", "title": "density", "scale": {"domain": [0, 11], "nice": false, "zero": false}, "axis": {"values": [0, 11], "titleX": -35}}}},
  {"mark": {"type": "line", "color": "#ff0000", "strokeWidth": 1.3, "clip": true},
   "encoding": {"x": {"field": "x", "type": "quantitative", "title": "x"}, "y": {"field": "r3", "type": "quantitative", "title": "density"}}},
  {"data": {"values": [{}]}, "mark": {"type": "text", "text": "t=7.6 10", "align": "left", "baseline": "alphabetic", "font": "DejaVu Sans", "fontSize": 15, "dx": -3, "dy": -5, "color": "#000"},
   "encoding": {"x": {"datum": -16384, "type": "quantitative", "title": "x"}, "y": {"datum": 11, "type": "quantitative", "title": "density"}}},
  {"data": {"values": [{}]}, "mark": {"type": "text", "text": "11", "align": "left", "baseline": "alphabetic", "font": "DejaVu Sans", "fontSize": 11, "dx": 64, "dy": -14, "color": "#000"},
   "encoding": {"x": {"datum": -16384, "type": "quantitative", "title": "x"}, "y": {"datum": 11, "type": "quantitative", "title": "density"}}}
 ]
},
{
 "width": 341, "height": 80,
 "layer": [
  {"mark": {"type": "line", "color": "#ff0000", "strokeWidth": 1.4, "clip": true},
   "encoding": {"x": {"field": "x", "type": "quantitative", "title": "x", "scale": {"domain": [-16384, 16384], "nice": false, "zero": false}, "axis": {"values": [-16384, 0, 16384], "labelExpr": "datum.value < 0 ? '-' + format(-datum.value, 'd') : format(datum.value, 'd')", "labelPadding": 7, "titlePadding": 3}},
                "y": {"field": "v3", "type": "quantitative", "title": "v", "scale": {"domain": [-0.1, 0.1], "nice": false, "zero": false}, "axis": {"values": [-0.1, 0, 0.1], "labelExpr": "datum.value == 0 ? '0' : (datum.value < 0 ? '-' + format(-datum.value, '.1f') : format(datum.value, '.1f'))", "titleX": -20}}}}
 ]
}
]
}
